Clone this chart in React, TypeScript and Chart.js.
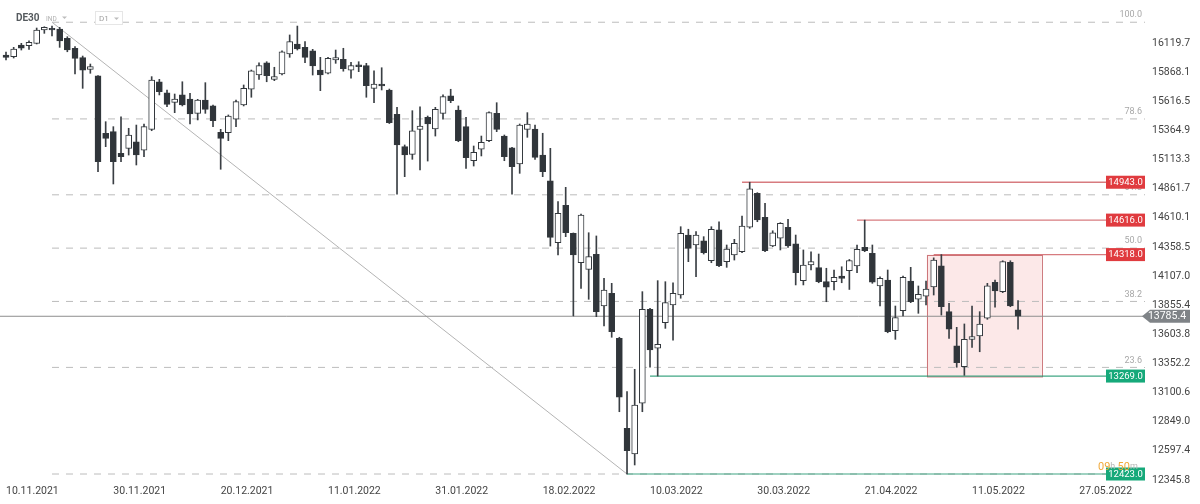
import React, { useEffect, useRef } from "react";
import { Chart, registerables } from "chart.js";

Chart.register(...registerables);

// ---------- data ----------
const dateTicks = [
  "10.11.2021", "30.11.2021", "20.12.2021", "11.01.2022", "31.01.2022", "18.02.2022",
  "10.03.2022", "30.03.2022", "21.04.2022", "11.05.2022", "27.05.2022",
];
const candlesPerTick = 14;

const opens = [
  16042, 16027, 16128, 16122, 16143, 16258, 16273, 16266, 16186, 16100,
  16019, 15918, 15861, 15366, 15380, 15193, 15236, 15293, 15221, 15400,
  15811, 15716, 15633, 15697, 15662, 15538, 15653, 15602, 15374, 15371,
  15487, 15610, 15746, 15869, 15975, 15832, 15878, 16051, 16137, 16108,
  16079, 15912, 15884, 15999, 16005, 15912, 15956, 15950, 15754, 15791,
  15740, 15530, 15250, 15184, 15400, 15504, 15403, 15538, 15690, 15567,
  15423, 15129, 15228, 15302, 15538, 15342, 15241, 15101, 15400, 15403,
  15178, 14956, 14421, 14744, 14502, 14248, 14191, 14321, 13874, 13984,
  13595, 12818, 12596, 13034, 13846, 13509, 13730, 13883, 13969, 14487,
  14401, 14438, 14265, 14531, 14257, 14315, 14343, 14554, 14848, 14640,
  14392, 14459, 14554, 14410, 14093, 14228, 14205, 14084, 14084, 14133,
  14179, 14220, 14381, 14329, 14047, 14099, 13661, 13834, 14090, 13932,
  13960, 14038, 14220, 13825, 13529, 13350, 13586, 13615, 13768, 14079,
  13998, 14252, 13840,
];
const highs = [
  16068, 16108, 16143, 16165, 16275, 16286, 16292, 16281, 16200, 16114,
  16033, 15964, 15865, 15466, 15423, 15509, 15409, 15437, 15446, 15855,
  15832, 15740, 15705, 15811, 15711, 15659, 15803, 15610, 15400, 15524,
  15653, 15783, 15912, 15975, 15984, 15936, 16077, 16215, 16292, 16157,
  16091, 16022, 16022, 16085, 16100, 15979, 15984, 15970, 15906, 15932,
  15748, 15590, 15265, 15561, 15595, 15515, 15590, 15697, 15746, 15602,
  15504, 15256, 15342, 15552, 15630, 15351, 15245, 15446, 15544, 15437,
  15366, 15236, 14775, 14899, 14505, 14669, 14507, 14479, 14113, 14070,
  13604, 13134, 13327, 13998, 13854, 14093, 14084, 14075, 14559, 14537,
  14516, 14473, 14559, 14602, 14401, 14450, 14651, 14943, 14853, 14761,
  14524, 14594, 14623, 14487, 14358, 14343, 14323, 14200, 14185, 14213,
  14276, 14401, 14616, 14401, 14127, 14185, 13874, 14133, 14208, 14047,
  14090, 14290, 14318, 13897, 13690, 13719, 13874, 13825, 14070, 14099,
  14265, 14265, 13920,
];
const lows = [
  15999, 16016, 16085, 16091, 16137, 16229, 16206, 16108, 16070, 15878,
  15754, 15884, 15034, 15250, 14928, 15120, 15178, 15092, 15164, 15388,
  15697, 15595, 15544, 15602, 15446, 15481, 15538, 15423, 15055, 15302,
  15423, 15602, 15677, 15832, 15811, 15820, 15869, 16022, 16085, 15975,
  15869, 15734, 15878, 15970, 15902, 15841, 15898, 15677, 15630, 15740,
  15450, 14841, 14991, 15141, 15049, 15126, 15342, 15487, 15630, 15293,
  15063, 15083, 15170, 15293, 15380, 15129, 14841, 15020, 15331, 15141,
  14991, 14392, 14315, 14473, 13788, 14027, 13932, 13782, 13701, 13604,
  12961, 12423, 12501, 12961, 13345, 13269, 13681, 13580, 13941, 14257,
  14127, 14323, 14248, 14213, 14208, 14271, 14334, 14545, 14602, 14343,
  14386, 14358, 14381, 14056, 14056, 14185, 14075, 13911, 14012, 14075,
  14017, 14162, 14343, 14070, 13874, 13643, 13586, 13788, 13903, 13811,
  13883, 13969, 13796, 13595, 13345, 13275, 13517, 13479, 13759, 13863,
  13989, 13868, 13673,
];
const closes = [
  16020, 16094, 16100, 16152, 16258, 16281, 16258, 16163, 16085, 16013,
  15912, 15941, 15120, 15322, 15120, 15164, 15351, 15178, 15423, 15826,
  15725, 15616, 15662, 15610, 15532, 15653, 15573, 15475, 15322, 15515,
  15639, 15754, 15906, 15950, 15863, 15855, 16070, 16157, 16094, 16022,
  15947, 15869, 16013, 16019, 15923, 15950, 15941, 15777, 15791, 15774,
  15457, 15265, 15178, 15386, 15429, 15446, 15573, 15682, 15647, 15302,
  15155, 15202, 15288, 15544, 15400, 15164, 15077, 15437, 15446, 15158,
  15034, 14467, 14675, 14507, 14315, 14660, 14300, 13825, 14012, 13652,
  13086, 12624, 13019, 13846, 13494, 13543, 13903, 13984, 14502, 14372,
  14487, 14334, 14537, 14222, 14366, 14416, 14565, 14885, 14617, 14352,
  14507, 14588, 14392, 14162, 14228, 14257, 14084, 14036, 14122, 14113,
  14267, 14364, 14352, 14079, 14113, 13652, 13773, 14122, 13911, 13975,
  14021, 14271, 13868, 13673, 13384, 13586, 13609, 13719, 14049, 14004,
  14257, 13874, 13785.4,
];

const yTicks = [
  16119.7, 15868.1, 15616.5, 15364.9, 15113.3, 14861.7, 14610.1, 14358.5,
  14107.0, 13855.4, 13603.8, 13352.2, 13100.6, 12849.0, 12597.4, 12345.8,
];

const fibLevels = [100, 78.6, 61.8, 50, 38.2, 23.6, 0];
const fibHigh = 16325;
const fibLow = 12423;
const fibHighIndex = 6;
const fibLowIndex = 81;

const resistanceLevels = [14943.0, 14616.0, 14318.0];
const resistanceStart = [96, 111, 121];
const supportLevels = [13269.0, 12423.0];
const supportStart = [84, 81];

const boxIndexRange = [120.1, 135.1];
const boxValueRange = [13269.0, 14318.0];

const lastPrice = 13785.4;
const countdown = ["09", "h ", "50", "m"];

// ---------- view window ----------
const X_MIN = -0.783;
const X_MAX = 148.56;
const Y_MIN = 12336.7;
const Y_MAX = 16517;

const FONT = 'Roboto, "Open Sans", "DejaVu Sans", sans-serif';

const overlayPlugin = {
  id: "overlay",
  beforeDatasetsDraw(chart: any) {
    const { ctx, scales } = chart;
    const x = scales.x, y = scales.y;
    const x0 = x.getPixelForValue(boxIndexRange[0]);
    const x1 = x.getPixelForValue(boxIndexRange[1]);
    const y0 = y.getPixelForValue(boxValueRange[1]);
    const y1 = y.getPixelForValue(boxValueRange[0]);
    ctx.save();
    ctx.fillStyle = "rgba(238,110,110,0.16)";
    ctx.fillRect(x0, y0, x1 - x0, y1 - y0);
    ctx.strokeStyle = "rgba(190,80,85,0.75)";
    ctx.lineWidth = 1;
    ctx.strokeRect(Math.round(x0) + 0.5, Math.round(y0) + 0.5, x1 - x0, y1 - y0);
    ctx.restore();
  },
  afterDraw(chart: any) {
    const { ctx, scales, chartArea } = chart;
    const y = scales.y;
    const right = chartArea.right;
    ctx.save();

    // fib labels
    ctx.font = `9px ${FONT}`;
    ctx.fillStyle = "#a8a8a8";
    ctx.textAlign = "right";
    ctx.textBaseline = "middle";
    fibLevels.forEach((lv) => {
      if (lv === 0) return;
      const v = fibLow + (fibHigh - fibLow) * lv / 100;
      ctx.fillText(lv.toFixed(1), right - 3, y.getPixelForValue(v) - 7);
    });

    // level boxes
    const drawBox = (v: number, color: string) => {
      const py = y.getPixelForValue(v);
      ctx.fillStyle = color;
      ctx.fillRect(right - 39, py - 6.5, 39, 13);
      ctx.fillStyle = "#ffffff";
      ctx.font = `9.5px ${FONT}`;
      ctx.textAlign = "center";
      ctx.textBaseline = "middle";
      ctx.fillText(v.toFixed(1), right - 19.5, py + 0.5);
    };
    resistanceLevels.forEach((v) => drawBox(v, "#e03b3f"));
    supportLevels.forEach((v) => drawBox(v, "#16a97a"));

    // price tag
    const py = y.getPixelForValue(lastPrice);
    ctx.fillStyle = "#7f8387";
    ctx.beginPath();
    ctx.moveTo(right - 3, py);
    ctx.lineTo(right + 5, py - 6.5);
    ctx.lineTo(right + 45, py - 6.5);
    ctx.lineTo(right + 45, py + 6.5);
    ctx.lineTo(right + 5, py + 6.5);
    ctx.closePath();
    ctx.fill();
    ctx.fillStyle = "#ffffff";
    ctx.font = `10.5px ${FONT}`;
    ctx.textAlign = "center";
    ctx.textBaseline = "middle";
    ctx.fillText(lastPrice.toFixed(1), right + 22, py + 0.5);

    // countdown
    ctx.textAlign = "left";
    ctx.textBaseline = "middle";
    let cx = right - 47;
    const cy = y.getPixelForValue(fibLow) - 7;
    countdown.forEach((s, i) => {
      const orange = i % 2 === 0;
      ctx.font = orange ? `11px ${FONT}` : `9px ${FONT}`;
      ctx.fillStyle = orange ? "#f0a93a" : "#b9b9b9";
      ctx.fillText(s, cx, cy);
      cx += ctx.measureText(s).width;
    });

    // header
    ctx.textAlign = "left";
    ctx.textBaseline = "middle";
    ctx.font = `bold 10px ${FONT}`;
    ctx.fillStyle = "#555a5e";
    ctx.fillText("DE30", 16, 18.5);
    ctx.font = `6.5px ${FONT}`;
    ctx.fillStyle = "#b0b0b0";
    ctx.fillText("IND", 46, 19);
    const tri = (tx: number, ty: number) => {
      ctx.beginPath();
      ctx.moveTo(tx, ty);
      ctx.lineTo(tx + 5, ty);
      ctx.lineTo(tx + 2.5, ty + 2.5);
      ctx.closePath();
      ctx.fill();
    };
    ctx.fillStyle = "#bdbdbd";
    tri(62, 16.5);
    ctx.strokeStyle = "#e6e6e6";
    ctx.lineWidth = 1;
    ctx.fillStyle = "#ffffff";
    ctx.fillRect(95.5, 11.5, 27, 13);
    ctx.strokeRect(95.5, 11.5, 27, 13);
    ctx.fillStyle = "#a0a0a0";
    ctx.font = `8px ${FONT}`;
    ctx.fillText("D1", 99, 18.5);
    ctx.fillStyle = "#bdbdbd";
    tri(114, 17.5);

    ctx.restore();
  },
};

function lineDs(points: { x: number; y: number }[], color: string, width: number, dash: number[] = [], order = 5) {
  return {
    type: "line" as const,
    data: points,
    borderColor: color,
    borderWidth: width,
    borderDash: dash,
    pointRadius: 0,
    fill: false,
    tension: 0,
    order,
  };
}

const zeroPadding = (s: any) => {
  s.paddingLeft = 0;
  s.paddingRight = 0;
  s.paddingTop = 0;
  s.paddingBottom = 0;
};

export default function App() {
  const ref = useRef<HTMLCanvasElement>(null);

  useEffect(() => {
    if (!ref.current) return;

    const bodyData = opens.map((o, i) => ({ x: i, y: [o, closes[i]] }));
    const wickData = lows.map((l, i) => ({ x: i, y: [l, highs[i]] }));
    const bodyFill = opens.map((o, i) => (closes[i] >= o ? "#ffffff" : "#30353a"));

    const fibDatasets = fibLevels.map((lv) => {
      const v = fibLow + (fibHigh - fibLow) * lv / 100;
      return lineDs([{ x: fibHighIndex, y: v }, { x: X_MAX, y: v }], "#bcbcbc", 1, [7, 7], 6);
    });

    const datasets: any[] = [
      {
        type: "bar",
        data: bodyData,
        backgroundColor: bodyFill,
        borderColor: "#33383d",
        borderWidth: 1,
        borderSkipped: false,
        barThickness: 6,
        grouped: false,
        order: 1,
      },
      {
        type: "bar",
        data: wickData,
        backgroundColor: "#3a3f44",
        borderWidth: 0,
        barThickness: 1,
        grouped: false,
        order: 2,
      },
      ...fibDatasets,
      lineDs([{ x: fibHighIndex, y: fibHigh }, { x: fibLowIndex, y: fibLow }], "#b4b4b4", 1, [], 6),
      lineDs([{ x: X_MIN, y: lastPrice }, { x: X_MAX, y: lastPrice }], "#8e8e8e", 1, [], 4),
      ...resistanceLevels.map((v, i) =>
        lineDs([{ x: resistanceStart[i], y: v }, { x: X_MAX, y: v }], "rgba(205,90,95,0.8)", 1.4, [], 3)
      ),
      ...supportLevels.map((v, i) =>
        lineDs([{ x: supportStart[i], y: v }, { x: X_MAX, y: v }], "rgba(30,150,110,0.85)", 1.2, [], 3)
      ),
    ];

    const chart = new Chart(ref.current, {
      type: "bar",
      data: { datasets },
      plugins: [overlayPlugin],
      options: {
        animation: false,
        responsive: false,
        devicePixelRatio: 1,
        layout: { padding: 0 },
        plugins: { legend: { display: false }, tooltip: { enabled: false } },
        scales: {
          x: {
            type: "linear",
            offset: false,
            min: X_MIN,
            max: X_MAX,
            grid: { display: false, drawTicks: false, offset: false },
            border: { display: false },
            afterBuildTicks: (s: any) => {
              s.ticks = dateTicks.map((_, k) => ({ value: k * candlesPerTick }));
            },
            afterFit: (s: any) => {
              s.height = 20;
              zeroPadding(s);
            },
            ticks: {
              autoSkip: false,
              maxRotation: 0,
              minRotation: 0,
              align: "start",
              padding: 1,
              color: "#444",
              font: { size: 10.5, family: FONT },
              callback: (v: any) => dateTicks[Math.round(Number(v) / candlesPerTick)] ?? "",
            },
          },
          y: {
            type: "linear",
            position: "right",
            min: Y_MIN,
            max: Y_MAX,
            grid: { display: false, drawTicks: false },
            border: { display: false },
            afterBuildTicks: (s: any) => {
              s.ticks = yTicks.map((v) => ({ value: v }));
            },
            afterFit: (s: any) => {
              s.width = 55;
              zeroPadding(s);
            },
            ticks: {
              padding: 7,
              labelOffset: -3,
              color: "#444",
              font: { size: 10.5, family: FONT },
              callback: (v: any) => Number(v).toFixed(1),
            },
          },
        },
      } as any,
    } as any);

    return () => chart.destroy();
  }, []);

  return (
    <div style={{ position: "absolute", left: 0, top: 0, width: 1200, height: 504, background: "#ffffff" }}>
      <canvas ref={ref} width={1200} height={504} style={{ display: "block", width: 1200, height: 504 }} />
    </div>
  );
}
